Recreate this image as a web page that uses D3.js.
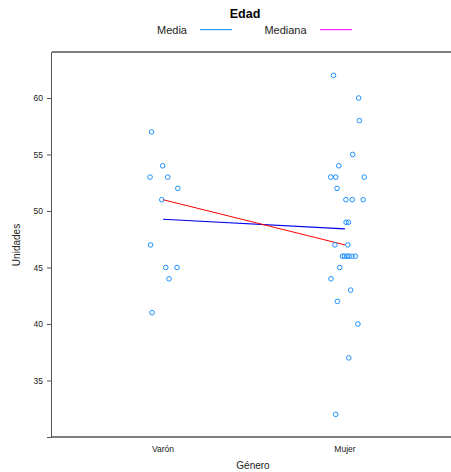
<!DOCTYPE html>
<html><head><meta charset="utf-8">
<script src="https://cdn.jsdelivr.net/npm/d3@7"></script>
<style>body{margin:0;background:#fff}text{font-family:"Liberation Sans",Arial,sans-serif}</style>
</head><body><svg id="c" width="451" height="472"></svg>
<script>
const categories = ["Varón", "Mujer"];
// values per group and horizontal jitter (in category units)
const varonValues = [57, 54, 53, 53, 52, 51, 47, 45, 45, 44, 41];
const varonJitter = [-0.063, -0.002, -0.071, 0.026, 0.081, -0.007, -0.068, 0.015, 0.077, 0.033, -0.060];
const mujerValues = [62, 60, 58, 55, 54, 53, 53, 53, 52, 51, 51, 51, 49, 49, 47, 47, 46, 46, 46, 46, 46, 46, 45, 44, 43, 42, 40, 37, 32];
const mujerJitter = [-0.063, 0.075, 0.079, 0.042, -0.034, -0.078, -0.051, 0.106, -0.044, 0.005, 0.040, 0.100, 0.006, 0.019, -0.055, 0.015, -0.014, -0.003, 0.011, 0.022, 0.038, 0.057, -0.029, -0.077, 0.031, -0.042, 0.071, 0.021, -0.051];
const yTicks = [30, 35, 40, 45, 50, 55, 60];
const meanValues = [49.27, 48.41];
const medianValues = [51, 47];

const svg = d3.select("#c");
const L = 52, T = 52, B = 437, R = 451;
const x = d3.scaleLinear().domain([1, 2]).range([163, 345]);
const y = d3.scaleLinear().domain([30, 64.07]).range([B, T]);

// title & legend
svg.append("text").attr("x", 245).attr("y", 18).attr("text-anchor", "middle")
  .attr("font-size", 12.5).attr("font-weight", "bold").text("Edad");
svg.append("text").attr("x", 172).attr("y", 34).attr("text-anchor", "middle").attr("font-size", 11).attr("fill", "#222").text("Media");
svg.append("rect").attr("x", 200).attr("width", 32).attr("y", 29).attr("height", 1.2).attr("fill", "#3399ff");
svg.append("text").attr("x", 285.5).attr("y", 34).attr("text-anchor", "middle").attr("font-size", 11).attr("fill", "#222").text("Mediana");
svg.append("rect").attr("x", 320).attr("width", 32).attr("y", 29).attr("height", 1.2).attr("fill", "#ff22ff");

// frame (top & bottom)
svg.append("line").attr("x1", L).attr("x2", R).attr("y1", T).attr("y2", T).attr("stroke", "#000");
svg.append("line").attr("x1", L).attr("x2", R).attr("y1", B).attr("y2", B).attr("stroke", "#000");

// y axis
const yAxis = d3.axisLeft(y).tickValues(yTicks).tickSize(5).tickPadding(4)
  .tickFormat(d => d === 30 ? "" : d);
const ga = svg.append("g").attr("transform", `translate(${L},0)`).call(yAxis);
ga.select(".domain").attr("stroke", "#555").attr("d", `M-0.5,${T}V${B}`);
ga.selectAll(".tick line").attr("stroke", "#555");
ga.selectAll(".tick text").attr("font-size", 8.5).attr("fill", "#222").attr("font-family", "Liberation Sans, Arial, sans-serif");

// x category labels
svg.selectAll(".cat").data(categories).enter().append("text")
  .attr("x", (d, i) => x(i + 1)).attr("y", 452).attr("text-anchor", "middle")
  .attr("font-size", 8.5).attr("fill", "#222").text(d => d);

svg.append("text").attr("x", 253).attr("y", 469).attr("text-anchor", "middle").attr("font-size", 10).attr("fill", "#222").text("Género");
svg.append("text").attr("transform", "translate(20,245) rotate(-90)").attr("text-anchor", "middle").attr("font-size", 10).attr("fill", "#222").text("Unidades");

// lines
const line = d3.line().x((d, i) => x(i + 1)).y(d => y(d));
svg.append("path").datum(meanValues).attr("d", line).attr("fill", "none").attr("stroke", "#0000ee").attr("stroke-width", 1.2);
svg.append("path").datum(medianValues).attr("d", line).attr("fill", "none").attr("stroke", "#ff0000").attr("stroke-width", 1);

// points
const pts = varonValues.map((v, i) => ({g: 1, v, j: varonJitter[i]}))
  .concat(mujerValues.map((v, i) => ({g: 2, v, j: mujerJitter[i]})));
svg.selectAll(".pt").data(pts).enter().append("circle")
  .attr("cx", d => x(d.g + d.j)).attr("cy", d => y(d.v)).attr("r", 2.3)
  .attr("fill", "none").attr("stroke", "#1e90ff").attr("stroke-width", 1);
</script></body></html>
